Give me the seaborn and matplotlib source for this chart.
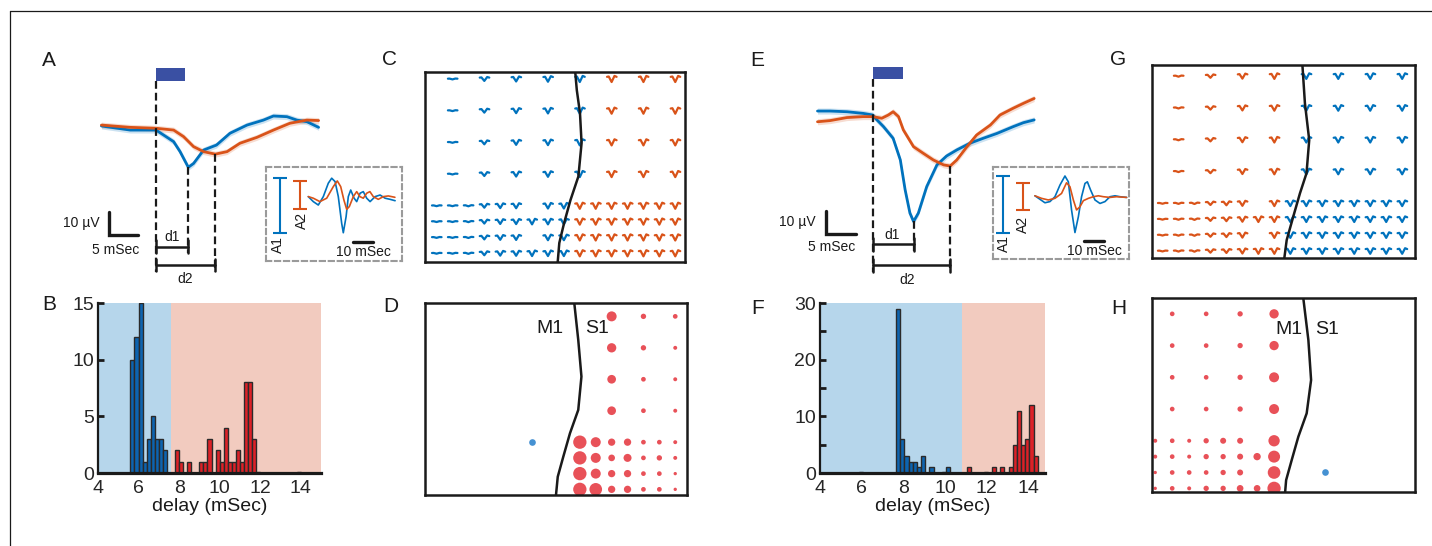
import numpy as np
import pandas as pd
import seaborn as sns
import matplotlib.pyplot as plt
from matplotlib.lines import Line2D
from matplotlib.patches import Rectangle

# ---------------- data ----------------
# A: mean evoked responses (time in mSec, amplitude in uV)
a_blue_t = [-9.3, -4.4, 0.0, 1.3, 3.0, 4.1, 5.5, 6.4, 8.1, 10.3, 12.6, 15.5, 18.3, 20.0, 22.3, 24.0, 25.7, 27.7]
a_blue_v = [0.0, -1.8, -1.8, -4.0, -6.9, -11.3, -18.2, -16.5, -10.6, -8.4, -3.2, 0.4, 2.6, 4.4, 4.1, 2.6, 1.9, -0.6]
a_red_t = [-9.3, -4.4, 0.0, 3.0, 4.7, 6.4, 8.1, 10.1, 12.1, 14.3, 17.2, 20.0, 22.8, 25.7, 27.7]
a_red_v = [0.4, -0.6, -1.0, -1.8, -4.7, -9.1, -11.3, -12.4, -11.3, -7.6, -5.0, -1.8, 1.2, 2.6, 2.4]

# A inset: single waveforms (mSec from start, uV)
ai_blue_t = [0, 2.5, 5, 7.5, 10, 11.7, 13.4, 15, 16.7, 17.5, 18.9, 20, 21.2, 22.9, 24.2, 25.9, 27.5, 29.2, 30.9, 33.4, 35.9, 38.4, 40.9, 43.4]
ai_blue_v = [0, -2.2, -3.7, 0, 5.9, 8.1, 6.6, 0, -11.8, -15.9, -8.8, 0, 2.9, -0.7, -2.2, 1.5, 2.2, -0.7, -2.2, 0, 0.7, -0.7, -1.2, -1.8]
ai_red_t = [0, 2.5, 5.8, 9.2, 12.5, 14.5, 16.2, 17.8, 19.2, 20.5, 22.5, 24.2, 25.8, 27.5, 29.2, 30.8, 32.5, 35, 37.5, 40, 43.3]
ai_red_v = [0, -0.7, -2.2, -0.7, 4.4, 6.9, 4.4, -1.5, -5.6, -4.4, 0, 2.2, 0, -0.7, 1.5, 2.2, 0, -1.2, 0, 0.3, -0.3]

# E: mean evoked responses
e_blue_t = [-9.2, -7.1, -4.3, -1.6, 0.0, 0.7, 1.8, 3.4, 4.6, 5.4, 6.2, 6.8, 7.6, 9.0, 10.7, 12.3, 14.0, 16.2, 18.4, 20.7, 23.4, 25.1, 26.9]
e_blue_v = [1.7, 1.7, 1.4, 0.7, 0.0, -2.1, -5.0, -10.0, -19.3, -32.1, -42.1, -45.7, -42.1, -30.7, -21.4, -17.6, -15.0, -12.1, -10.0, -7.9, -5.0, -3.3, -2.1]
e_red_t = [-9.2, -7.1, -4.3, -1.6, 0.0, 1.5, 2.6, 3.4, 4.3, 5.1, 6.8, 8.4, 10.1, 11.8, 12.9, 14.0, 15.7, 17.3, 19.6, 21.2, 23.4, 25.1, 26.9]
e_red_v = [-2.9, -2.4, -1.1, -0.7, -0.7, -1.4, 0.0, 1.4, -0.7, -6.4, -13.6, -16.4, -19.3, -21.4, -21.9, -19.3, -13.6, -8.6, -4.3, 0.0, 2.9, 5.0, 7.1]

# E inset
ei_blue_t = [0, 2.5, 5, 7.5, 10, 12.5, 15, 16.7, 18.3, 20, 21.7, 23.3, 25, 26.2, 27.8, 30, 32.5, 35, 37.5, 40, 42.5, 45.8]
ei_blue_v = [0.4, -1.1, -2.6, -2.1, 0, 5, 8.9, 6.4, -5.7, -15.4, -8.6, 0, 5.7, 6.4, 2.9, -1.4, -2.9, -2.1, 0, 0.4, 0, -0.3]
ei_red_t = [0, 3.3, 6.7, 10, 13.3, 15.8, 17.5, 19.2, 20.8, 22.5, 24.2, 26.7, 29.2, 31.7, 34.2, 37.5, 40.8, 45.8]
ei_red_v = [0.4, -0.7, -1.4, -0.7, 1.4, 6, 4.3, -1.4, -5.7, -4.3, -1.7, -0.7, 0, 0.4, 0, -0.3, 0, -0.3]

trace_sem = 1.3
stim_ms = 5

# B / F: delay histograms (bin centres, counts)
b_blue_x = [5.7, 5.9, 6.1, 6.3, 6.5, 6.7, 6.9, 7.1, 7.3]
b_blue_n = [10, 12, 15, 1, 3, 5, 3, 3, 2]
b_red_x = [7.9, 8.1, 8.5, 9.1, 9.3, 9.5, 9.9, 10.1, 10.3, 10.5, 10.7, 10.9, 11.1, 11.3, 11.5, 11.7, 11.9, 13.9]
b_red_n = [2, 1, 1, 1, 1, 3, 2, 1, 4, 1, 1, 2, 1, 8, 8, 3, 0.1, 0.1]
b_split = 7.6

f_blue_x = [5.95, 7.75, 7.95, 8.15, 8.35, 8.55, 8.75, 8.95, 9.35, 9.95, 10.15]
f_blue_n = [0.2, 29, 6, 3, 2, 2, 1, 3, 1, 0.2, 1]
f_red_x = [11.15, 11.95, 12.35, 12.75, 13.15, 13.35, 13.55, 13.75, 13.95, 14.15, 14.35]
f_red_n = [1, 0.2, 1, 1, 1, 5, 11, 5, 6, 12, 3]
f_split = 10.8

# electrode grid (column / row index)
dense_cols = list(range(16))
dense_rows = [0, 1, 2, 3]
sparse_cols = [1, 3, 5, 7, 9, 11, 13, 15]
sparse_rows = [5, 7, 9, 11]
missing_sites = [(6, 1), (6, 3)]

# C / G: waveform icon amplitude per column
c_icon_amp = [0.15, 0.15, 0.2, 0.7, 0.85, 0.9, 1, 1, 1, 1.1, 1.1, 1.1, 1.1, 1.1, 1.1, 1.1]
g_icon_amp = [0.15, 0.2, 0.25, 0.6, 0.7, 0.9, 1, 1, 1, 1, 1, 1, 1, 1, 1, 1]
icon_dx = [-0.5, -0.32, -0.02, 0.28, 0.5]
icon_dy = [0.35, 0.4, -0.5, 0.5, 0.35]

# M1 / S1 border
c_border_x = [8.7, 8.8, 9.0, 9.1, 8.9, 8.4, 8.0, 7.7, 7.6]
c_border_y = [11.46, 10.3, 8.85, 6.95, 4.85, 3.35, 1.9, 0.65, -0.55]
d_border_x = [8.65, 8.9, 9.1, 8.9, 8.38, 7.96, 7.61, 7.5]
d_border_y = [11.85, 9.5, 7.17, 5.05, 3.57, 2.08, 0.8, -0.36]
g_border_x = [8.74, 8.9, 9.17, 9.0, 8.59, 8.17, 7.76, 7.61]
g_border_y = [11.75, 9.3, 6.98, 4.89, 3.63, 2.16, 0.69, -0.46]
h_border_x = [8.72, 9.02, 9.18, 8.92, 8.43, 8.04, 7.71, 7.65]
h_border_y = [12.0, 9.35, 6.83, 4.73, 3.26, 1.79, 0.52, -0.25]

# D / H: response size per site
d_dense_cols = [9, 10, 11, 12, 13, 14, 15]
d_dense_amp = [  # rows 3, 2, 1, 0
    [16, 9, 4.8, 4.8, 2, 2, 1.4],
    [16, 9, 4, 5.8, 2, 2.6, 1.4],
    [16, 9, 4.8, 4.8, 2, 2, 1],
    [16, 14.4, 4.8, 4.8, 2, 2, 1],
]
d_sparse_cols = [11, 13, 15]
d_sparse_amp = [  # rows 11, 9, 7, 5
    [9, 2.6, 2],
    [7.8, 2.6, 1.4],
    [6.8, 2, 1.4],
    [6.8, 2, 1.4],
]
d_blue_site = (6, 3)

h_dense_cols = [0, 1, 2, 3, 4, 5, 6, 7]
h_dense_amp = [  # rows 3, 2, 1, 0
    [1.44, 1.96, 1.44, 2.56, 3.24, 3.24, np.nan, 11.56],
    [1.44, 1.96, 1.44, 2.56, 2.56, 3.24, 4.84, 12.96],
    [1.0, 1.96, 1.96, 1.96, 2.56, 3.24, np.nan, 14.44],
    [1.0, 1.96, 1.44, 2.56, 2.56, 4.0, 4.0, 16],
]
h_sparse_cols = [1, 3, 5, 7]
h_sparse_amp = [  # rows 11, 9, 7, 5
    [1.96, 1.96, 2.56, 7.84],
    [1.96, 1.96, 2.56, 7.84],
    [1.96, 1.96, 2.56, 9],
    [1.96, 1.96, 2.56, 9],
]
h_blue_site = (10, 1)
blue_site_amp = 4

# ---------------- style ----------------
BLUE = "#0072bd"
RED = "#d95319"
STIM = "#3a50a3"
HB = "#0d64b0"
HR = "#dc2127"
BG_BLUE = "#b6d6eb"
BG_RED = "#f2cbbf"
DOT_RED = "#e5323b"
DOT_BLUE = "#3b8bd0"
INK = "#1a1a1a"

sns.set_theme(style="white")
plt.rcParams["font.family"] = ["Liberation Sans", "DejaVu Sans"]

W, H = 1432, 546
fig = plt.figure(figsize=(W / 100, H / 100), dpi=100)


def px_axes(x0, y0, x1, y1):
    return fig.add_axes([x0 / W, 1 - y1 / H, (x1 - x0) / W, (y1 - y0) / H])


def draw_traces(ax, bt, bv, rt, rv, lay):
    bt, bv, rt, rv = map(np.asarray, (bt, bv, rt, rv))
    for t, v, col in [(bt, bv, BLUE), (rt, rv, RED)]:
        ax.fill_between(t, v - trace_sem, v + trace_sem, color=col, alpha=0.2, lw=0)
        sns.lineplot(x=t, y=v, color=col, lw=2.0, ax=ax)
    lo, hi = lay["stim"]
    ax.add_patch(Rectangle((0, lo), stim_ms, hi - lo, color=STIM, lw=0))
    dash = dict(color=INK, lw=1.6, ls=(0, (3.5, 1.8)))
    solid = dict(color=INK, lw=1.8)
    bottom, tk = lay["bottom"], lay["tick"]
    ax.plot([0, 0], [lo, bottom], **dash)
    t1, v1 = bt[np.argmin(bv)], bv.min()
    t2, v2 = rt[np.argmin(rv)], rv.min()
    ax.plot([t1, t1], [v1, lay["d1"] - tk], **dash)
    ax.plot([t2, t2], [v2, bottom], **dash)
    for tt, yy in [(t1, lay["d1"]), (t2, lay["d2"])]:
        ax.plot([0, tt], [yy, yy], **solid)
        ax.plot([0, 0], [yy - tk, yy + tk], **solid)
        ax.plot([tt, tt], [yy - tk, yy + tk], **solid)
    ax.text(*lay["d1_lab"], "d1", ha="center", va="center", fontsize=10, color=INK)
    ax.text(*lay["d2_lab"], "d2", ha="center", va="center", fontsize=10, color=INK)
    sx, sy = lay["sb"]
    ax.plot([sx, sx, sx + 5], [sy + 10, sy, sy], color=INK, lw=2.4, solid_joinstyle="miter")
    ax.text(*lay["uv"], "10 µV", ha="right", va="center", fontsize=10, color=INK)
    ax.text(*lay["ms"], "5 mSec", ha="center", va="center", fontsize=10, color=INK)
    ax.set_xlim(lay["xlim"])
    ax.set_ylim(lay["ylim"])
    ax.axis("off")


def draw_inset(ax, bt, bv, rt, rv, lay):
    sns.lineplot(x=bt, y=bv, color=BLUE, lw=1.2, ax=ax)
    sns.lineplot(x=rt, y=rv, color=RED, lw=1.2, ax=ax)
    for x, v, col, lab, pos in [(lay["a1"], bv, BLUE, "A1", lay["a1_lab"]),
                                (lay["a2"], rv, RED, "A2", lay["a2_lab"])]:
        lo, hi = min(v), max(v)
        ax.errorbar([x], [(lo + hi) / 2], yerr=[(hi - lo) / 2], color=col,
                    capsize=5, lw=1.5, capthick=1.5)
        ax.text(*pos, lab, rotation=90, ha="center", va="center", fontsize=10, color=INK)
    s0, sy = lay["sb"]
    ax.plot([s0, s0 + 10], [sy, sy], color=INK, lw=2.4)
    ax.text(s0 + 5, sy - 4.4, "10 mSec", ha="center", va="center", fontsize=10, color=INK)
    ax.set_xlim(lay["xlim"])
    ax.set_ylim(lay["ylim"])
    ax.set_xticks([])
    ax.set_yticks([])
    ax.set_xlabel("")
    ax.set_ylabel("")
    ax.set_facecolor("none")
    for sp in ax.spines.values():
        sp.set_visible(True)
        sp.set_color("#9a9a9a")
        sp.set_linewidth(1.5)
        sp.set_linestyle((0, (2.5, 1.8)))


def draw_hist(ax, bx, bn, rx, rn, split, xmax, brange, ymax, yticks, minor):
    ax.axvspan(4, split, color=BG_BLUE, lw=0, zorder=0)
    ax.axvspan(split, xmax, color=BG_RED, lw=0, zorder=0)
    for xs, ns, col in [(bx, bn, HB), (rx, rn, HR)]:
        df = pd.DataFrame({"delay": xs, "n": ns})
        sns.histplot(data=df, x="delay", weights="n", binwidth=0.2, binrange=brange,
                     color=col, edgecolor="#2a2a2a", linewidth=1, alpha=1, ax=ax)
    ax.set_xlim(4, xmax)
    ax.set_ylim(0, ymax)
    ax.set_xticks([4, 6, 8, 10, 12, 14])
    ax.set_yticks(yticks)
    ax.set_yticks(minor, minor=True)
    ax.set_ylabel("")
    ax.set_xlabel("delay (mSec)", fontsize=14, labelpad=1, color=INK)
    ax.tick_params(axis="y", which="both", direction="in", length=4, width=2,
                   color=INK, labelsize=14, pad=3, left=True)
    ax.tick_params(axis="x", length=0, labelsize=14, pad=5)
    for s in ["top", "right"]:
        ax.spines[s].set_visible(False)
    ax.spines["left"].set_linewidth(1.6)
    ax.spines["bottom"].set_linewidth(2.3)
    for s in ["left", "bottom"]:
        ax.spines[s].set_color(INK)
        ax.spines[s].set_zorder(5)


def sites():
    out = [(c, r) for r in dense_rows for c in dense_cols if (c, r) not in missing_sites]
    out += [(c, r) for r in sparse_rows for c in sparse_cols]
    return out


def box_axes(ax, xlim, ylim):
    ax.set_xlim(xlim)
    ax.set_ylim(ylim)
    ax.set_xticks([])
    ax.set_yticks([])
    ax.set_xlabel("")
    ax.set_ylabel("")
    for sp in ax.spines.values():
        sp.set_visible(True)
        sp.set_color(INK)
        sp.set_linewidth(1.8)


def draw_icons(ax, amps, left_col, right_col, split_dense, split_sparse, bx, by, xlim, ylim):
    dx = np.array(icon_dx) * 0.6
    dy = np.array(icon_dy) * 0.35
    for c, r in sites():
        split = split_dense if r < 4 else split_sparse
        col = left_col if c <= split else right_col
        ax.plot(c + dx, r + dy * amps[c], color=col, lw=1.6,
                solid_capstyle="round", solid_joinstyle="round")
    ax.plot(bx, by, color=INK, lw=1.8)
    box_axes(ax, xlim, ylim)


def site_table(dense_c, dense_a, sparse_c, sparse_a):
    rows = []
    for r, line in zip([3, 2, 1, 0], dense_a):
        rows += [(c, r, a) for c, a in zip(dense_c, line) if not np.isnan(a)]
    for r, line in zip([11, 9, 7, 5], sparse_a):
        rows += [(c, r, a) for c, a in zip(sparse_c, line)]
    return pd.DataFrame(rows, columns=["col", "row", "amp"])


def draw_dots(ax, df, blue_site, bx, by, labels, xlim, ylim):
    sns.scatterplot(data=df, x="col", y="row", size="amp", sizes=(0, 92),
                    size_norm=(0, 16), color=DOT_RED, alpha=0.85, linewidth=0,
                    legend=False, ax=ax)
    blue = pd.DataFrame({"col": [blue_site[0]], "row": [blue_site[1]], "amp": [blue_site_amp]})
    sns.scatterplot(data=blue, x="col", y="row", size="amp", sizes=(0, 92),
                    size_norm=(0, 16), color=DOT_BLUE, alpha=0.95, linewidth=0,
                    legend=False, ax=ax)
    ax.plot(bx, by, color=INK, lw=1.8)
    for (x, y), s in zip(labels, ["M1", "S1"]):
        ax.text(x, y, s, ha="center", va="center", fontsize=14, color=INK)
    box_axes(ax, xlim, ylim)


# ---------------- panels ----------------
ax_a = px_axes(80, 60, 330, 290)
draw_traces(ax_a, a_blue_t, a_blue_v, a_red_t, a_red_v, dict(
    stim=(20.0, 25.4), bottom=-64.2, tick=2.8, d1=-53.2, d2=-61.2,
    d1_lab=(2.7, -48.8), d2_lab=(4.9, -67.6), sb=(-8.0, -48.0),
    uv=(-9.6, -42.9), ms=(-6.8, -54.6), xlim=(-12.95, 29.64), ylim=(-72.25, 29.07)))

ax_ai = px_axes(265.7, 167.3, 401.7, 260.7)
draw_inset(ax_ai, ai_blue_t, ai_blue_v, ai_red_t, ai_red_v, dict(
    a1=-14.2, a2=-4.2, a1_lab=(-15.2, -21.3), a2_lab=(-3.3, -10.3),
    sb=(22.5, -19.9), xlim=(-21.3, 46.7), ylim=(-28.2, 12.9)))

ax_e = px_axes(790, 55, 1060, 290)
draw_traces(ax_e, e_blue_t, e_blue_v, e_red_t, e_red_v, dict(
    stim=(15.3, 20.7), bottom=-67.3, tick=2.8, d1=-55.4, d2=-64.4,
    d1_lab=(3.2, -51.6), d2_lab=(5.7, -70.6), sb=(-7.83, -51.1),
    uv=(-9.5, -45.8), ms=(-6.83, -56.8), xlim=(-13.78, 31.2), ylim=(-75.1, 25.75)))

ax_ei = px_axes(993.3, 166.7, 1129, 259.3)
draw_inset(ax_ei, ei_blue_t, ei_blue_v, ei_red_t, ei_red_v, dict(
    a1=-15.8, a2=-5.8, a1_lab=(-15.5, -20.0), a2_lab=(-5.8, -12.1),
    sb=(24.7, -18.9), xlim=(-20.8, 47.0), ylim=(-26.9, 12.9)))

ax_b = px_axes(98, 303, 321, 473)
draw_hist(ax_b, b_blue_x, b_blue_n, b_red_x, b_red_n, b_split, 15,
          (5.6, 14.0), 15, [0, 5, 10, 15], [])

ax_f = px_axes(820, 303, 1045, 473)
draw_hist(ax_f, f_blue_x, f_blue_n, f_red_x, f_red_n, f_split, 14.8,
          (5.85, 14.45), 30, [0, 10, 20, 30], [5, 15, 25])

ax_c = px_axes(425, 72, 685, 262)
draw_icons(ax_c, c_icon_amp, BLUE, RED, 8, 9, c_border_x, c_border_y,
           (-0.74, 15.6), (-0.55, 11.44))

ax_g = px_axes(1152, 65, 1415, 258)
draw_icons(ax_g, g_icon_amp, RED, BLUE, 7, 7, g_border_x, g_border_y,
           (-0.67, 15.79), (-0.44, 11.7))

ax_d = px_axes(425, 303, 687, 495)
draw_dots(ax_d, site_table(d_dense_cols, d_dense_amp, d_sparse_cols, d_sparse_amp),
          d_blue_site, d_border_x, d_border_y, [(7.1, 10.25), (10.1, 10.25)],
          (-0.74, 15.74), (-0.36, 11.85))

ax_h = px_axes(1152, 298, 1415, 492)
draw_dots(ax_h, site_table(h_dense_cols, h_dense_amp, h_sparse_cols, h_sparse_amp),
          h_blue_site, h_border_x, h_border_y, [(7.9, 10.0), (10.13, 10.0)],
          (-0.19, 15.3), (-0.23, 12.0))

# panel letters
for lab, x, y in [("A", 49, 60), ("B", 49, 305), ("C", 390, 59), ("D", 391, 307),
                  ("E", 757, 60), ("F", 758, 308), ("G", 1118, 59), ("H", 1119, 309)]:
    fig.text(x / W, 1 - y / H, lab, ha="center", va="center", fontsize=15, color=INK)

# frame lines of the page
fig.add_artist(Line2D([10 / W, 1], [1 - 11 / H, 1 - 11 / H], transform=fig.transFigure, color="k", lw=0.9))
fig.add_artist(Line2D([10 / W, 10 / W], [0, 1 - 11 / H], transform=fig.transFigure, color="k", lw=0.9))

fig.savefig("out.png", dpi=100)
